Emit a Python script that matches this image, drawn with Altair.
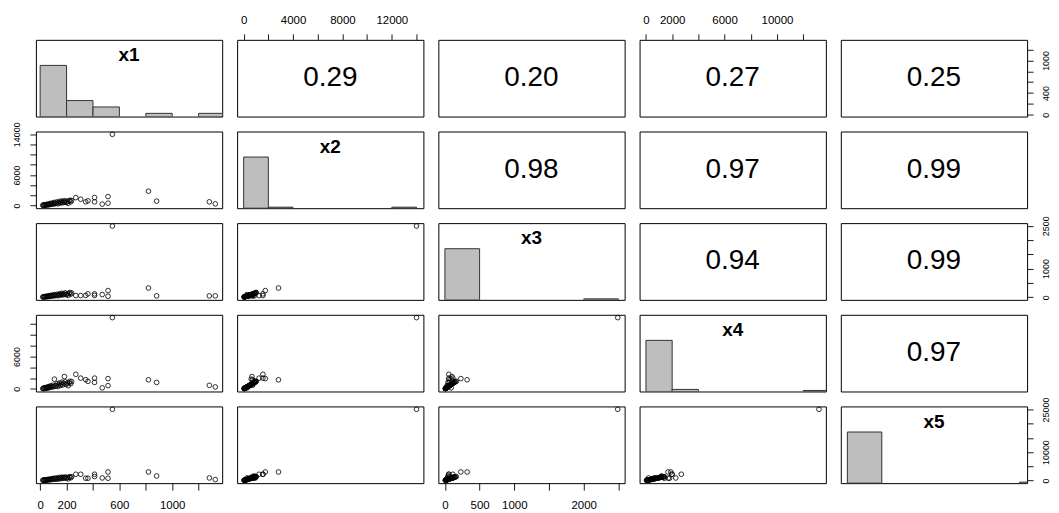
import altair as alt
import numpy as np
import pandas as pd

NAMES = ["x1", "x2", "x3", "x4", "x5"]

x1 = [20, 24, 28, 33, 38, 42, 47, 52, 57, 62, 67, 72, 78, 84, 90, 96, 102, 108, 114, 120,
      127, 134, 140, 147, 153, 159, 165, 171, 177, 184, 190, 197, 205, 212, 218, 225, 232, 238,
      270, 307, 345, 362, 412, 412, 470, 514, 514, 547, 820, 882, 1281, 1326]
x2 = [30, 80, 45, 150, 60, 120, 200, 90, 260, 140, 310, 180, 420, 230, 350, 500, 280, 610, 380, 450,
      700, 330, 560, 820, 480, 650, 900, 540, 760, 670, 950, 600, 780, 430, 880, 1020, 720, 990,
      1560, 1245, 720, 915, 1560, 720, 270, 1755, 465, 14000, 2820, 860, 720, 330]
x3 = [5, 10, 8, 20, 12, 18, 30, 15, 40, 22, 45, 28, 60, 35, 50, 75, 42, 90, 55, 65,
      100, 48, 80, 120, 70, 95, 135, 78, 110, 100, 150, 88, 115, 62, 130, 165, 105, 145,
      56, 56, 60, 115, 115, 60, 90, 230, 32, 2490, 320, 45, 45, 45]
x4 = [40, 120, 60, 200, 90, 170, 280, 130, 350, 190, 420, 250, 560, 310, 470, 680, 380, 1800, 500, 600,
      950, 430, 740, 1100, 640, 880, 1250, 720, 1020, 2275, 1300, 800, 1050, 580, 1150, 1400, 960, 1350,
      2700, 1990, 1700, 1400, 1990, 1195, 190, 1900, 600, 13200, 1680, 1195, 655, 360]
x5 = [50, 110, 60, 200, 80, 160, 260, 120, 340, 180, 400, 240, 550, 300, 460, 650, 370, 800, 500, 590,
      910, 430, 730, 1070, 620, 850, 1170, 700, 990, 870, 1240, 780, 1010, 560, 1140, 1330, 940, 1290,
      2185, 2185, 780, 780, 2185, 1376, 884, 2990, 780, 25100, 2990, 1590, 880, 320]

# correlations printed in the upper panels (row variable, column variable)
corr_pairs = [(0, 1), (0, 2), (0, 3), (0, 4), (1, 2), (1, 3), (1, 4), (2, 3), (2, 4), (3, 4)]
corr_text = ["0.29", "0.20", "0.27", "0.25", "0.98", "0.97", "0.99", "0.94", "0.99", "0.97"]

# histogram bin widths per variable
bin_width = [200, 2000, 500, 2000, 5000]

# axis ticks and the labels that are printed
tick_values = [
    [0, 200, 400, 600, 800, 1000, 1200],
    [0, 2000, 4000, 6000, 8000, 10000, 12000, 14000],
    [0, 500, 1000, 1500, 2000, 2500],
    [0, 2000, 4000, 6000, 8000, 10000, 12000],
    [0, 5000, 10000, 15000, 20000, 25000],
]
hlabels = [[0, 200, 600, 1000], [0, 4000, 8000, 12000], [0, 500, 1000, 2000],
           [0, 2000, 6000, 10000], [0, 5000, 15000, 25000]]
vlabels = [[0, 400, 1000], [0, 6000, 14000], [0, 1000, 2500], [0, 6000], [0, 10000, 25000]]

DATA = [x1, x2, x3, x4, x5]
df = pd.DataFrame({n: v for n, v in zip(NAMES, DATA)})

W, H = 187, 77
SP = 15
FONT = "Liberation Sans"
INK = "#1a1a1a"
VIEW = alt.ViewBackground(stroke="#000000", strokeWidth=1)


def padded(k):
    v = np.asarray(DATA[k], float)
    lo, hi = v.min(), v.max()
    r = hi - lo
    return [float(lo - 0.04 * r), float(hi + 0.04 * r)]


DOM = [padded(k) for k in range(5)]
MID = [(d[0] + d[1]) / 2 for d in DOM]


def scale(k):
    return alt.Scale(domain=DOM[k], nice=False, zero=False)


def axis(var, orient):
    horiz = orient in ("top", "bottom")
    shown = hlabels[var] if horiz else vlabels[var]
    expr = f"indexof({shown}, datum.value) >= 0 ? format(datum.value, 'd') : ''"
    kw = dict(orient=orient, values=tick_values[var], labelExpr=expr, grid=False, domain=False,
              title=None, ticks=True, tickColor=INK, tickWidth=1, labelColor="black",
              labelFont=FONT, labelOverlap=False, labelFlush=False, labelBound=False)
    if horiz:
        kw.update(labelAngle=0, labelFontSize=11.5, labelAlign="center")
        if orient == "top":
            kw.update(tickSize=6, labelPadding=8, labelBaseline="bottom")
        else:
            kw.update(tickSize=7, labelPadding=9, labelBaseline="top")
    else:
        kw.update(labelAngle=270, labelFontSize=9, tickSize=6, labelPadding=8, labelAlign="center",
                  labelBaseline="bottom" if orient == "left" else "top")
    return alt.Axis(**kw)


def axes_for(i, j):
    xa, ya = None, None
    if i == 0 and j in (1, 3):
        xa = axis(j, "top")
    if i == 4 and j in (0, 2, 4):
        xa = axis(j, "bottom")
    if j == 0 and i in (1, 3):
        ya = axis(i, "left")
    if j == 4 and i in (0, 2, 4):
        ya = axis(i, "right")
    return xa, ya


def panel(i, j):
    xa, ya = axes_for(i, j)
    if i > j:
        return alt.Chart(df).mark_point(shape="circle", filled=False, size=22, stroke="black",
                                        strokeWidth=0.8, opacity=1).encode(
            x=alt.X(f"{NAMES[j]}:Q", scale=scale(j), axis=xa),
            y=alt.Y(f"{NAMES[i]}:Q", scale=scale(i), axis=ya),
        ).properties(width=W, height=H, view=VIEW)
    if i < j:
        lab = corr_text[corr_pairs.index((i, j))]
        t = pd.DataFrame({NAMES[j]: [MID[j]], NAMES[i]: [MID[i]], "label": [lab]})
        return alt.Chart(t).mark_text(font=FONT, fontSize=28, color="black").encode(
            x=alt.X(f"{NAMES[j]}:Q", scale=scale(j), axis=xa),
            y=alt.Y(f"{NAMES[i]}:Q", scale=scale(i), axis=ya),
            text="label:N",
        ).properties(width=W, height=H, view=VIEW)
    # diagonal: histogram + variable name
    v = np.asarray(DATA[j], float)
    w = bin_width[j]
    top = int(np.ceil(v.max() / w)) * w
    edges = np.arange(0, top + w, w)
    counts, _ = np.histogram(v, bins=edges)
    hd = pd.DataFrame({"b0": edges[:-1], "b1": edges[1:], "h": counts / counts.max(), "z": 0.0})
    hd = hd[hd["h"] > 0]
    hscale = alt.Scale(domain=[0, 1.5], nice=False, zero=False)
    bars = alt.Chart(hd).mark_rect(fill="#bebebe", stroke="#333333", strokeWidth=1, clip=True).encode(
        x=alt.X("b0:Q", scale=scale(j), axis=xa),
        x2="b1:Q",
        y=alt.Y("h:Q", scale=hscale, axis=None),
        y2="z:Q",
    )
    td = pd.DataFrame({"xm": [MID[j]], "yy": [1.2], "label": [NAMES[j]]})
    title = alt.Chart(td).mark_text(font=FONT, fontSize=19, fontWeight="bold", color="black").encode(
        x=alt.X("xm:Q", scale=scale(j), axis=None),
        y=alt.Y("yy:Q", scale=hscale, axis=None),
        text="label:N",
    )
    layers = [bars, title]
    if ya is not None:
        cd = pd.DataFrame({"xm": [MID[j]], NAMES[i]: [MID[i]]})
        carrier = alt.Chart(cd).mark_point(opacity=0).encode(
            x=alt.X("xm:Q", scale=scale(j), axis=None),
            y=alt.Y(f"{NAMES[i]}:Q", scale=scale(i), axis=ya),
        )
        layers.append(carrier)
    return alt.layer(*layers).resolve_scale(y="independent").properties(width=W, height=H, view=VIEW)


panels = [panel(i, j) for i in range(5) for j in range(5)]
chart = alt.concat(*panels, columns=5, spacing=SP, bounds="flush").properties(
    padding={"left": 4, "top": 5, "right": 0, "bottom": 0},
    background="white",
).configure_view(stroke="#000000", strokeWidth=1).configure(font=FONT)

chart.save("out.html", embed_options={"renderer": "svg", "actions": False})
